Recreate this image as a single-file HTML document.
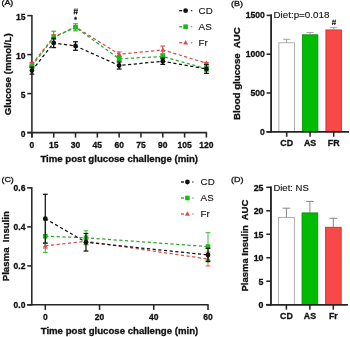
<!DOCTYPE html>
<html><head><meta charset="utf-8"><style>
html,body{margin:0;padding:0;background:#fff;width:350px;height:337px;overflow:hidden}
svg{display:block;font-family:"Liberation Sans", sans-serif;filter:blur(0.35px)}
</style></head><body>
<svg width="350" height="337" viewBox="0 0 350 337">
<rect width="350" height="337" fill="#fff"/>
<line x1="31.90" y1="14.90" x2="31.90" y2="137.60" stroke="#262626" stroke-width="1.55" />
<line x1="27.30" y1="132.60" x2="207.10" y2="132.60" stroke="#262626" stroke-width="1.55" />
<line x1="27.30" y1="132.60" x2="31.90" y2="132.60" stroke="#262626" stroke-width="1.55" />
<text x="25.50" y="136.50" font-size="8.5" font-weight="bold" text-anchor="end" fill="#111" stroke="#111" stroke-width="0.3" >0</text>
<line x1="27.30" y1="93.60" x2="31.90" y2="93.60" stroke="#262626" stroke-width="1.55" />
<text x="25.50" y="97.50" font-size="8.5" font-weight="bold" text-anchor="end" fill="#111" stroke="#111" stroke-width="0.3" >5</text>
<line x1="27.30" y1="54.60" x2="31.90" y2="54.60" stroke="#262626" stroke-width="1.55" />
<text x="25.50" y="58.50" font-size="8.5" font-weight="bold" text-anchor="end" fill="#111" stroke="#111" stroke-width="0.3" >10</text>
<line x1="27.30" y1="15.60" x2="31.90" y2="15.60" stroke="#262626" stroke-width="1.55" />
<text x="25.50" y="19.50" font-size="8.5" font-weight="bold" text-anchor="end" fill="#111" stroke="#111" stroke-width="0.3" >15</text>
<line x1="31.90" y1="132.60" x2="31.90" y2="137.60" stroke="#262626" stroke-width="1.55" />
<text x="31.90" y="147.60" font-size="8.5" font-weight="bold" text-anchor="middle" fill="#111" stroke="#111" stroke-width="0.3" >0</text>
<line x1="53.71" y1="132.60" x2="53.71" y2="137.60" stroke="#262626" stroke-width="1.55" />
<text x="53.71" y="147.60" font-size="8.5" font-weight="bold" text-anchor="middle" fill="#111" stroke="#111" stroke-width="0.3" >15</text>
<line x1="75.53" y1="132.60" x2="75.53" y2="137.60" stroke="#262626" stroke-width="1.55" />
<text x="75.53" y="147.60" font-size="8.5" font-weight="bold" text-anchor="middle" fill="#111" stroke="#111" stroke-width="0.3" >30</text>
<line x1="97.34" y1="132.60" x2="97.34" y2="137.60" stroke="#262626" stroke-width="1.55" />
<text x="97.34" y="147.60" font-size="8.5" font-weight="bold" text-anchor="middle" fill="#111" stroke="#111" stroke-width="0.3" >45</text>
<line x1="119.15" y1="132.60" x2="119.15" y2="137.60" stroke="#262626" stroke-width="1.55" />
<text x="119.15" y="147.60" font-size="8.5" font-weight="bold" text-anchor="middle" fill="#111" stroke="#111" stroke-width="0.3" >60</text>
<line x1="140.97" y1="132.60" x2="140.97" y2="137.60" stroke="#262626" stroke-width="1.55" />
<text x="140.97" y="147.60" font-size="8.5" font-weight="bold" text-anchor="middle" fill="#111" stroke="#111" stroke-width="0.3" >75</text>
<line x1="162.78" y1="132.60" x2="162.78" y2="137.60" stroke="#262626" stroke-width="1.55" />
<text x="162.78" y="147.60" font-size="8.5" font-weight="bold" text-anchor="middle" fill="#111" stroke="#111" stroke-width="0.3" >90</text>
<line x1="184.59" y1="132.60" x2="184.59" y2="137.60" stroke="#262626" stroke-width="1.55" />
<text x="184.59" y="147.60" font-size="8.5" font-weight="bold" text-anchor="middle" fill="#111" stroke="#111" stroke-width="0.3" >105</text>
<line x1="206.40" y1="132.60" x2="206.40" y2="137.60" stroke="#262626" stroke-width="1.55" />
<text x="206.40" y="147.60" font-size="8.5" font-weight="bold" text-anchor="middle" fill="#111" stroke="#111" stroke-width="0.3" >120</text>
<text x="119.20" y="162.20" font-size="9.65" font-weight="bold" text-anchor="middle" fill="#111" stroke="#111" stroke-width="0.3" >Time post glucose challenge (min)</text>
<text x="11.10" y="74.30" font-size="9.7" font-weight="bold" text-anchor="middle" fill="#111" stroke="#111" stroke-width="0.3" transform="rotate(-90 11.1 74.3)">Glucose (mmol/L)</text>
<text transform="translate(1.4 5.2) scale(1.12 1)" font-size="8" fill="#111" stroke="#111" stroke-width="0.3">(A)</text>
<polyline points="31.90,64.35 53.71,37.05 75.53,26.91 119.15,54.29 162.78,49.92 206.40,63.18" fill="none" stroke="#d05050" stroke-width="1.25" stroke-dasharray="3.2,2.5"/>
<polyline points="31.90,65.91 53.71,37.44 75.53,27.30 119.15,58.81 162.78,56.55 206.40,68.80" fill="none" stroke="#2ea82e" stroke-width="1.25" stroke-dasharray="3.2,2.5"/>
<polyline points="31.90,70.59 53.71,42.90 75.53,46.02 119.15,65.52 162.78,61.23 206.40,69.03" fill="none" stroke="#111111" stroke-width="1.25" stroke-dasharray="3.2,2.5"/>
<line x1="31.90" y1="62.40" x2="31.90" y2="66.30" stroke="#e24848" stroke-width="1.1" />
<line x1="29.50" y1="62.40" x2="34.30" y2="62.40" stroke="#e24848" stroke-width="1.1" />
<line x1="29.50" y1="66.30" x2="34.30" y2="66.30" stroke="#e24848" stroke-width="1.1" />
<polygon points="31.90,61.70 34.35,66.11 29.45,66.11" fill="#e24848"/>
<line x1="53.71" y1="34.71" x2="53.71" y2="39.39" stroke="#e24848" stroke-width="1.1" />
<line x1="51.31" y1="34.71" x2="56.11" y2="34.71" stroke="#e24848" stroke-width="1.1" />
<line x1="51.31" y1="39.39" x2="56.11" y2="39.39" stroke="#e24848" stroke-width="1.1" />
<polygon points="53.71,34.40 56.16,38.81 51.26,38.81" fill="#e24848"/>
<line x1="75.53" y1="25.74" x2="75.53" y2="28.08" stroke="#e24848" stroke-width="1.1" />
<line x1="73.13" y1="25.74" x2="77.93" y2="25.74" stroke="#e24848" stroke-width="1.1" />
<line x1="73.13" y1="28.08" x2="77.93" y2="28.08" stroke="#e24848" stroke-width="1.1" />
<polygon points="75.53,24.26 77.98,28.67 73.08,28.67" fill="#e24848"/>
<line x1="119.15" y1="51.95" x2="119.15" y2="56.63" stroke="#e24848" stroke-width="1.1" />
<line x1="116.75" y1="51.95" x2="121.55" y2="51.95" stroke="#e24848" stroke-width="1.1" />
<line x1="116.75" y1="56.63" x2="121.55" y2="56.63" stroke="#e24848" stroke-width="1.1" />
<polygon points="119.15,51.64 121.60,56.05 116.70,56.05" fill="#e24848"/>
<line x1="162.78" y1="46.02" x2="162.78" y2="53.82" stroke="#e24848" stroke-width="1.1" />
<line x1="160.38" y1="46.02" x2="165.18" y2="46.02" stroke="#e24848" stroke-width="1.1" />
<line x1="160.38" y1="53.82" x2="165.18" y2="53.82" stroke="#e24848" stroke-width="1.1" />
<polygon points="162.78,47.27 165.23,51.68 160.33,51.68" fill="#e24848"/>
<line x1="206.40" y1="62.40" x2="206.40" y2="63.96" stroke="#e24848" stroke-width="1.1" />
<line x1="204.00" y1="62.40" x2="208.80" y2="62.40" stroke="#e24848" stroke-width="1.1" />
<line x1="204.00" y1="63.96" x2="208.80" y2="63.96" stroke="#e24848" stroke-width="1.1" />
<polygon points="206.40,60.53 208.85,64.94 203.95,64.94" fill="#e24848"/>
<line x1="31.90" y1="63.96" x2="31.90" y2="67.86" stroke="#1cb81c" stroke-width="1.1" />
<line x1="29.50" y1="63.96" x2="34.30" y2="63.96" stroke="#1cb81c" stroke-width="1.1" />
<line x1="29.50" y1="67.86" x2="34.30" y2="67.86" stroke="#1cb81c" stroke-width="1.1" />
<rect x="29.60" y="63.61" width="4.6" height="4.6" fill="#1cb81c"/>
<line x1="53.71" y1="31.20" x2="53.71" y2="43.68" stroke="#1cb81c" stroke-width="1.1" />
<line x1="51.31" y1="31.20" x2="56.11" y2="31.20" stroke="#1cb81c" stroke-width="1.1" />
<line x1="51.31" y1="43.68" x2="56.11" y2="43.68" stroke="#1cb81c" stroke-width="1.1" />
<rect x="51.41" y="35.14" width="4.6" height="4.6" fill="#1cb81c"/>
<line x1="75.53" y1="23.79" x2="75.53" y2="30.81" stroke="#1cb81c" stroke-width="1.1" />
<line x1="73.13" y1="23.79" x2="77.93" y2="23.79" stroke="#1cb81c" stroke-width="1.1" />
<line x1="73.13" y1="30.81" x2="77.93" y2="30.81" stroke="#1cb81c" stroke-width="1.1" />
<rect x="73.23" y="25.00" width="4.6" height="4.6" fill="#1cb81c"/>
<line x1="119.15" y1="56.47" x2="119.15" y2="61.15" stroke="#1cb81c" stroke-width="1.1" />
<line x1="116.75" y1="56.47" x2="121.55" y2="56.47" stroke="#1cb81c" stroke-width="1.1" />
<line x1="116.75" y1="61.15" x2="121.55" y2="61.15" stroke="#1cb81c" stroke-width="1.1" />
<rect x="116.85" y="56.51" width="4.6" height="4.6" fill="#1cb81c"/>
<line x1="162.78" y1="54.21" x2="162.78" y2="58.89" stroke="#1cb81c" stroke-width="1.1" />
<line x1="160.38" y1="54.21" x2="165.18" y2="54.21" stroke="#1cb81c" stroke-width="1.1" />
<line x1="160.38" y1="58.89" x2="165.18" y2="58.89" stroke="#1cb81c" stroke-width="1.1" />
<rect x="160.48" y="54.25" width="4.6" height="4.6" fill="#1cb81c"/>
<line x1="206.40" y1="66.46" x2="206.40" y2="71.14" stroke="#1cb81c" stroke-width="1.1" />
<line x1="204.00" y1="66.46" x2="208.80" y2="66.46" stroke="#1cb81c" stroke-width="1.1" />
<line x1="204.00" y1="71.14" x2="208.80" y2="71.14" stroke="#1cb81c" stroke-width="1.1" />
<rect x="204.10" y="66.50" width="4.6" height="4.6" fill="#1cb81c"/>
<line x1="31.90" y1="67.08" x2="31.90" y2="74.10" stroke="#111111" stroke-width="1.25" />
<line x1="29.50" y1="67.08" x2="34.30" y2="67.08" stroke="#111111" stroke-width="1.25" />
<line x1="29.50" y1="74.10" x2="34.30" y2="74.10" stroke="#111111" stroke-width="1.25" />
<circle cx="31.90" cy="70.59" r="2.4" fill="#111111"/>
<line x1="53.71" y1="38.22" x2="53.71" y2="47.58" stroke="#111111" stroke-width="1.25" />
<line x1="51.31" y1="38.22" x2="56.11" y2="38.22" stroke="#111111" stroke-width="1.25" />
<line x1="51.31" y1="47.58" x2="56.11" y2="47.58" stroke="#111111" stroke-width="1.25" />
<circle cx="53.71" cy="42.90" r="2.4" fill="#111111"/>
<line x1="75.53" y1="41.73" x2="75.53" y2="50.31" stroke="#111111" stroke-width="1.25" />
<line x1="73.13" y1="41.73" x2="77.93" y2="41.73" stroke="#111111" stroke-width="1.25" />
<line x1="73.13" y1="50.31" x2="77.93" y2="50.31" stroke="#111111" stroke-width="1.25" />
<circle cx="75.53" cy="46.02" r="2.4" fill="#111111"/>
<line x1="119.15" y1="62.01" x2="119.15" y2="69.03" stroke="#111111" stroke-width="1.25" />
<line x1="116.75" y1="62.01" x2="121.55" y2="62.01" stroke="#111111" stroke-width="1.25" />
<line x1="116.75" y1="69.03" x2="121.55" y2="69.03" stroke="#111111" stroke-width="1.25" />
<circle cx="119.15" cy="65.52" r="2.4" fill="#111111"/>
<line x1="162.78" y1="58.11" x2="162.78" y2="64.35" stroke="#111111" stroke-width="1.25" />
<line x1="160.38" y1="58.11" x2="165.18" y2="58.11" stroke="#111111" stroke-width="1.25" />
<line x1="160.38" y1="64.35" x2="165.18" y2="64.35" stroke="#111111" stroke-width="1.25" />
<circle cx="162.78" cy="61.23" r="2.4" fill="#111111"/>
<line x1="206.40" y1="64.74" x2="206.40" y2="73.32" stroke="#111111" stroke-width="1.25" />
<line x1="204.00" y1="64.74" x2="208.80" y2="64.74" stroke="#111111" stroke-width="1.25" />
<line x1="204.00" y1="73.32" x2="208.80" y2="73.32" stroke="#111111" stroke-width="1.25" />
<circle cx="206.40" cy="69.03" r="2.4" fill="#111111"/>
<path d="M75.00,8.40L74.20,14.40M77.20,8.40L76.40,14.40M73.60,10.30H77.80M73.60,12.60H77.80" stroke="#1a1a1a" stroke-width="0.95" fill="none"/>
<text x="75.53" y="22.00" font-size="6.6" font-weight="bold" text-anchor="middle" fill="#111" stroke="#111" stroke-width="0.3" >*</text>
<line x1="179.20" y1="10.70" x2="182.20" y2="10.70" stroke="#111111" stroke-width="1.35" />
<line x1="190.90" y1="10.70" x2="192.30" y2="10.70" stroke="#111111" stroke-width="1.1" />
<circle cx="185.60" cy="10.70" r="2.4" fill="#111111"/>
<text x="198.60" y="14.20" font-size="9.8" font-weight="normal" text-anchor="start" fill="#111" stroke="#111" stroke-width="0.12" >CD</text>
<line x1="179.20" y1="26.70" x2="182.20" y2="26.70" stroke="#2ea82e" stroke-width="1.35" />
<line x1="190.90" y1="26.70" x2="192.30" y2="26.70" stroke="#2ea82e" stroke-width="1.1" />
<rect x="183.30" y="24.40" width="4.6" height="4.6" fill="#1cb81c"/>
<text x="198.60" y="30.20" font-size="9.8" font-weight="normal" text-anchor="start" fill="#111" stroke="#111" stroke-width="0.12" >AS</text>
<line x1="179.20" y1="42.70" x2="182.20" y2="42.70" stroke="#d05050" stroke-width="1.35" />
<line x1="190.90" y1="42.70" x2="192.30" y2="42.70" stroke="#d05050" stroke-width="1.1" />
<polygon points="185.60,40.05 188.05,44.46 183.15,44.46" fill="#e24848"/>
<text x="198.60" y="46.20" font-size="9.8" font-weight="normal" text-anchor="start" fill="#111" stroke="#111" stroke-width="0.12" >Fr</text>
<line x1="271.20" y1="14.40" x2="271.20" y2="132.50" stroke="#262626" stroke-width="1.55" />
<line x1="266.60" y1="131.75" x2="349.00" y2="131.75" stroke="#262626" stroke-width="1.55" />
<line x1="266.60" y1="131.80" x2="271.20" y2="131.80" stroke="#262626" stroke-width="1.55" />
<text x="264.80" y="134.80" font-size="8.6" font-weight="bold" text-anchor="end" fill="#111" stroke="#111" stroke-width="0.3" >0</text>
<line x1="266.60" y1="93.00" x2="271.20" y2="93.00" stroke="#262626" stroke-width="1.55" />
<text x="264.80" y="96.00" font-size="8.6" font-weight="bold" text-anchor="end" fill="#111" stroke="#111" stroke-width="0.3" >500</text>
<line x1="266.60" y1="54.20" x2="271.20" y2="54.20" stroke="#262626" stroke-width="1.55" />
<text x="264.80" y="57.20" font-size="8.6" font-weight="bold" text-anchor="end" fill="#111" stroke="#111" stroke-width="0.3" >1000</text>
<line x1="266.60" y1="15.40" x2="271.20" y2="15.40" stroke="#262626" stroke-width="1.55" />
<text x="264.80" y="18.40" font-size="8.6" font-weight="bold" text-anchor="end" fill="#111" stroke="#111" stroke-width="0.3" >1500</text>
<rect x="278.90" y="42.79" width="15.6" height="89.01" fill="#ffffff" stroke="#9a9a9a" stroke-width="0.8"/>
<line x1="286.70" y1="42.79" x2="286.70" y2="39.30" stroke="#808080" stroke-width="0.7" />
<line x1="283.10" y1="39.30" x2="290.30" y2="39.30" stroke="#808080" stroke-width="0.7" />
<line x1="286.70" y1="131.80" x2="286.70" y2="136.80" stroke="#262626" stroke-width="1.55" />
<text x="286.70" y="146.40" font-size="8.8" font-weight="bold" text-anchor="middle" fill="#111" stroke="#111" stroke-width="0.3" >CD</text>
<rect x="302.30" y="34.80" width="15.6" height="97.00" fill="#00bb04" stroke="#0a8a0a" stroke-width="0.8"/>
<line x1="310.10" y1="34.80" x2="310.10" y2="32.47" stroke="#808080" stroke-width="0.7" />
<line x1="306.50" y1="32.47" x2="313.70" y2="32.47" stroke="#808080" stroke-width="0.7" />
<line x1="310.10" y1="131.80" x2="310.10" y2="136.80" stroke="#262626" stroke-width="1.55" />
<text x="310.10" y="146.40" font-size="8.8" font-weight="bold" text-anchor="middle" fill="#111" stroke="#111" stroke-width="0.3" >AS</text>
<rect x="325.90" y="29.91" width="15.6" height="101.89" fill="#f84848" stroke="#c03030" stroke-width="0.8"/>
<line x1="333.70" y1="29.91" x2="333.70" y2="27.58" stroke="#808080" stroke-width="0.7" />
<line x1="330.10" y1="27.58" x2="337.30" y2="27.58" stroke="#808080" stroke-width="0.7" />
<line x1="333.70" y1="131.80" x2="333.70" y2="136.80" stroke="#262626" stroke-width="1.55" />
<text x="333.70" y="146.40" font-size="8.8" font-weight="bold" text-anchor="middle" fill="#111" stroke="#111" stroke-width="0.3" >FR</text>
<line x1="266.60" y1="131.75" x2="349.00" y2="131.75" stroke="#262626" stroke-width="1.55" />
<line x1="271.20" y1="14.40" x2="271.20" y2="132.50" stroke="#262626" stroke-width="1.55" />
<text x="273.50" y="18.10" font-size="9.8" font-weight="normal" text-anchor="start" fill="#111" stroke="#111" stroke-width="0.12" >Diet:p=0.018</text>
<path d="M333.30,19.70L332.50,25.00M335.40,19.70L334.60,25.00M331.90,21.20H336.00M331.90,23.60H336.00" stroke="#1a1a1a" stroke-width="0.85" fill="none"/>
<text x="240.40" y="73.60" font-size="9.69" font-weight="bold" text-anchor="middle" fill="#111" stroke="#111" stroke-width="0.3" style="white-space:pre" transform="rotate(-90 240.4 73.6)">Blood glucose  AUC</text>
<text transform="translate(231.0 5.5) scale(1.12 1)" font-size="8" fill="#111" stroke="#111" stroke-width="0.3">(B)</text>
<line x1="31.80" y1="187.10" x2="31.80" y2="305.60" stroke="#262626" stroke-width="1.55" />
<line x1="27.20" y1="304.80" x2="208.70" y2="304.80" stroke="#262626" stroke-width="1.55" />
<line x1="27.20" y1="304.90" x2="31.80" y2="304.90" stroke="#262626" stroke-width="1.55" />
<text x="25.40" y="308.10" font-size="8.5" font-weight="bold" text-anchor="end" fill="#111" stroke="#111" stroke-width="0.3" >0.0</text>
<line x1="27.20" y1="265.88" x2="31.80" y2="265.88" stroke="#262626" stroke-width="1.55" />
<text x="25.40" y="269.08" font-size="8.5" font-weight="bold" text-anchor="end" fill="#111" stroke="#111" stroke-width="0.3" >0.2</text>
<line x1="27.20" y1="226.86" x2="31.80" y2="226.86" stroke="#262626" stroke-width="1.55" />
<text x="25.40" y="230.06" font-size="8.5" font-weight="bold" text-anchor="end" fill="#111" stroke="#111" stroke-width="0.3" >0.4</text>
<line x1="27.20" y1="187.84" x2="31.80" y2="187.84" stroke="#262626" stroke-width="1.55" />
<text x="25.40" y="191.04" font-size="8.5" font-weight="bold" text-anchor="end" fill="#111" stroke="#111" stroke-width="0.3" >0.6</text>
<line x1="45.30" y1="304.90" x2="45.30" y2="309.90" stroke="#262626" stroke-width="1.55" />
<text x="45.30" y="320.20" font-size="8.5" font-weight="bold" text-anchor="middle" fill="#111" stroke="#111" stroke-width="0.3" >0</text>
<line x1="99.53" y1="304.90" x2="99.53" y2="309.90" stroke="#262626" stroke-width="1.55" />
<text x="99.53" y="320.20" font-size="8.5" font-weight="bold" text-anchor="middle" fill="#111" stroke="#111" stroke-width="0.3" >20</text>
<line x1="153.77" y1="304.90" x2="153.77" y2="309.90" stroke="#262626" stroke-width="1.55" />
<text x="153.77" y="320.20" font-size="8.5" font-weight="bold" text-anchor="middle" fill="#111" stroke="#111" stroke-width="0.3" >40</text>
<line x1="208.00" y1="304.90" x2="208.00" y2="309.90" stroke="#262626" stroke-width="1.55" />
<text x="208.00" y="320.20" font-size="8.5" font-weight="bold" text-anchor="middle" fill="#111" stroke="#111" stroke-width="0.3" >60</text>
<text x="119.50" y="333.60" font-size="9.65" font-weight="bold" text-anchor="middle" fill="#111" stroke="#111" stroke-width="0.3" >Time post glucose challenge (min)</text>
<text x="9.00" y="246.20" font-size="9.63" font-weight="bold" text-anchor="middle" fill="#111" stroke="#111" stroke-width="0.3" style="white-space:pre" transform="rotate(-90 9.0 246.2)">Plasma  Insulin</text>
<text transform="translate(1.4 182.2) scale(1.12 1)" font-size="8" fill="#111" stroke="#111" stroke-width="0.3">(C)</text>
<polyline points="45.30,245.78 85.98,241.30 208.00,259.05" fill="none" stroke="#d05050" stroke-width="1.25" stroke-dasharray="3.2,2.5"/>
<polyline points="45.30,236.22 85.98,237.79 208.00,246.57" fill="none" stroke="#2ea82e" stroke-width="1.25" stroke-dasharray="3.2,2.5"/>
<polyline points="45.30,218.67 85.98,242.27 208.00,254.95" fill="none" stroke="#111111" stroke-width="1.25" stroke-dasharray="3.2,2.5"/>
<line x1="45.30" y1="243.44" x2="45.30" y2="248.13" stroke="#e24848" stroke-width="0.9" />
<line x1="42.90" y1="243.44" x2="47.70" y2="243.44" stroke="#e24848" stroke-width="0.9" />
<line x1="42.90" y1="248.13" x2="47.70" y2="248.13" stroke="#e24848" stroke-width="0.9" />
<polygon points="45.30,243.14 47.75,247.55 42.85,247.55" fill="#e24848"/>
<line x1="85.98" y1="238.37" x2="85.98" y2="244.22" stroke="#e24848" stroke-width="0.9" />
<line x1="83.58" y1="238.37" x2="88.38" y2="238.37" stroke="#e24848" stroke-width="0.9" />
<line x1="83.58" y1="244.22" x2="88.38" y2="244.22" stroke="#e24848" stroke-width="0.9" />
<polygon points="85.98,238.65 88.43,243.06 83.53,243.06" fill="#e24848"/>
<line x1="208.00" y1="252.03" x2="208.00" y2="266.08" stroke="#e24848" stroke-width="0.9" />
<line x1="205.60" y1="252.03" x2="210.40" y2="252.03" stroke="#e24848" stroke-width="0.9" />
<line x1="205.60" y1="266.08" x2="210.40" y2="266.08" stroke="#e24848" stroke-width="0.9" />
<polygon points="208.00,256.41 210.45,260.82 205.55,260.82" fill="#e24848"/>
<line x1="45.30" y1="220.03" x2="45.30" y2="252.42" stroke="#1cb81c" stroke-width="0.9" />
<line x1="42.90" y1="220.03" x2="47.70" y2="220.03" stroke="#1cb81c" stroke-width="0.9" />
<line x1="42.90" y1="252.42" x2="47.70" y2="252.42" stroke="#1cb81c" stroke-width="0.9" />
<rect x="43.00" y="233.92" width="4.6" height="4.6" fill="#1cb81c"/>
<line x1="85.98" y1="230.76" x2="85.98" y2="244.81" stroke="#1cb81c" stroke-width="0.9" />
<line x1="83.58" y1="230.76" x2="88.38" y2="230.76" stroke="#1cb81c" stroke-width="0.9" />
<line x1="83.58" y1="244.81" x2="88.38" y2="244.81" stroke="#1cb81c" stroke-width="0.9" />
<rect x="83.68" y="235.49" width="4.6" height="4.6" fill="#1cb81c"/>
<line x1="208.00" y1="232.71" x2="208.00" y2="260.42" stroke="#1cb81c" stroke-width="0.9" />
<line x1="205.60" y1="232.71" x2="210.40" y2="232.71" stroke="#1cb81c" stroke-width="0.9" />
<line x1="205.60" y1="260.42" x2="210.40" y2="260.42" stroke="#1cb81c" stroke-width="0.9" />
<rect x="205.70" y="244.27" width="4.6" height="4.6" fill="#1cb81c"/>
<line x1="45.30" y1="194.28" x2="45.30" y2="243.05" stroke="#111111" stroke-width="1.25" />
<line x1="42.90" y1="194.28" x2="47.70" y2="194.28" stroke="#111111" stroke-width="1.25" />
<line x1="42.90" y1="243.05" x2="47.70" y2="243.05" stroke="#111111" stroke-width="1.25" />
<circle cx="45.30" cy="218.67" r="2.4" fill="#111111"/>
<line x1="85.98" y1="233.49" x2="85.98" y2="251.05" stroke="#111111" stroke-width="1.25" />
<line x1="83.58" y1="233.49" x2="88.38" y2="233.49" stroke="#111111" stroke-width="1.25" />
<line x1="83.58" y1="251.05" x2="88.38" y2="251.05" stroke="#111111" stroke-width="1.25" />
<circle cx="85.98" cy="242.27" r="2.4" fill="#111111"/>
<line x1="208.00" y1="248.32" x2="208.00" y2="261.59" stroke="#111111" stroke-width="1.25" />
<line x1="205.60" y1="248.32" x2="210.40" y2="248.32" stroke="#111111" stroke-width="1.25" />
<line x1="205.60" y1="261.59" x2="210.40" y2="261.59" stroke="#111111" stroke-width="1.25" />
<circle cx="208.00" cy="254.95" r="2.4" fill="#111111"/>
<line x1="181.00" y1="182.00" x2="184.00" y2="182.00" stroke="#111111" stroke-width="1.35" />
<line x1="192.20" y1="182.00" x2="193.60" y2="182.00" stroke="#111111" stroke-width="1.1" />
<circle cx="187.40" cy="182.00" r="2.4" fill="#111111"/>
<text x="200.60" y="185.20" font-size="9.8" font-weight="normal" text-anchor="start" fill="#111" stroke="#111" stroke-width="0.12" >CD</text>
<line x1="181.00" y1="198.00" x2="184.00" y2="198.00" stroke="#2ea82e" stroke-width="1.35" />
<line x1="192.20" y1="198.00" x2="193.60" y2="198.00" stroke="#2ea82e" stroke-width="1.1" />
<rect x="185.10" y="195.70" width="4.6" height="4.6" fill="#1cb81c"/>
<text x="200.60" y="201.20" font-size="9.8" font-weight="normal" text-anchor="start" fill="#111" stroke="#111" stroke-width="0.12" >AS</text>
<line x1="181.00" y1="214.00" x2="184.00" y2="214.00" stroke="#d05050" stroke-width="1.35" />
<line x1="192.20" y1="214.00" x2="193.60" y2="214.00" stroke="#d05050" stroke-width="1.1" />
<polygon points="187.40,211.35 189.85,215.76 184.95,215.76" fill="#e24848"/>
<text x="200.60" y="217.20" font-size="9.8" font-weight="normal" text-anchor="start" fill="#111" stroke="#111" stroke-width="0.12" >Fr</text>
<line x1="270.90" y1="186.60" x2="270.90" y2="305.40" stroke="#262626" stroke-width="1.55" />
<line x1="266.30" y1="304.70" x2="347.80" y2="304.70" stroke="#262626" stroke-width="1.55" />
<line x1="266.30" y1="304.70" x2="270.90" y2="304.70" stroke="#262626" stroke-width="1.55" />
<text x="263.50" y="308.20" font-size="8.8" font-weight="bold" text-anchor="end" fill="#111" stroke="#111" stroke-width="0.3" >0</text>
<line x1="266.30" y1="281.22" x2="270.90" y2="281.22" stroke="#262626" stroke-width="1.55" />
<text x="263.50" y="284.72" font-size="8.8" font-weight="bold" text-anchor="end" fill="#111" stroke="#111" stroke-width="0.3" >5</text>
<line x1="266.30" y1="257.74" x2="270.90" y2="257.74" stroke="#262626" stroke-width="1.55" />
<text x="263.50" y="261.24" font-size="8.8" font-weight="bold" text-anchor="end" fill="#111" stroke="#111" stroke-width="0.3" >10</text>
<line x1="266.30" y1="234.26" x2="270.90" y2="234.26" stroke="#262626" stroke-width="1.55" />
<text x="263.50" y="237.76" font-size="8.8" font-weight="bold" text-anchor="end" fill="#111" stroke="#111" stroke-width="0.3" >15</text>
<line x1="266.30" y1="210.78" x2="270.90" y2="210.78" stroke="#262626" stroke-width="1.55" />
<text x="263.50" y="214.28" font-size="8.8" font-weight="bold" text-anchor="end" fill="#111" stroke="#111" stroke-width="0.3" >20</text>
<line x1="266.30" y1="187.30" x2="270.90" y2="187.30" stroke="#262626" stroke-width="1.55" />
<text x="263.50" y="190.80" font-size="8.8" font-weight="bold" text-anchor="end" fill="#111" stroke="#111" stroke-width="0.3" >25</text>
<rect x="278.50" y="217.35" width="15.8" height="87.35" fill="#ffffff" stroke="#9a9a9a" stroke-width="0.8"/>
<line x1="286.40" y1="217.35" x2="286.40" y2="208.20" stroke="#7a7a7a" stroke-width="0.9" />
<line x1="282.60" y1="208.20" x2="290.20" y2="208.20" stroke="#7a7a7a" stroke-width="0.9" />
<line x1="286.40" y1="304.70" x2="286.40" y2="309.70" stroke="#262626" stroke-width="1.55" />
<text x="286.40" y="318.70" font-size="8.8" font-weight="bold" text-anchor="middle" fill="#111" stroke="#111" stroke-width="0.3" >CD</text>
<rect x="302.00" y="212.89" width="15.8" height="91.81" fill="#00bb04" stroke="#0a8a0a" stroke-width="0.8"/>
<line x1="309.90" y1="212.89" x2="309.90" y2="201.39" stroke="#7a7a7a" stroke-width="0.9" />
<line x1="306.10" y1="201.39" x2="313.70" y2="201.39" stroke="#7a7a7a" stroke-width="0.9" />
<line x1="309.90" y1="304.70" x2="309.90" y2="309.70" stroke="#262626" stroke-width="1.55" />
<text x="309.90" y="318.70" font-size="8.8" font-weight="bold" text-anchor="middle" fill="#111" stroke="#111" stroke-width="0.3" >AS</text>
<rect x="325.40" y="227.22" width="15.8" height="77.48" fill="#f84848" stroke="#c03030" stroke-width="0.8"/>
<line x1="333.30" y1="227.22" x2="333.30" y2="218.29" stroke="#7a7a7a" stroke-width="0.9" />
<line x1="329.50" y1="218.29" x2="337.10" y2="218.29" stroke="#7a7a7a" stroke-width="0.9" />
<line x1="333.30" y1="304.70" x2="333.30" y2="309.70" stroke="#262626" stroke-width="1.55" />
<text x="333.30" y="318.70" font-size="8.8" font-weight="bold" text-anchor="middle" fill="#111" stroke="#111" stroke-width="0.3" >Fr</text>
<line x1="266.30" y1="304.70" x2="347.80" y2="304.70" stroke="#262626" stroke-width="1.55" />
<line x1="270.90" y1="186.60" x2="270.90" y2="305.40" stroke="#262626" stroke-width="1.55" />
<text x="273.40" y="190.80" font-size="9.5" font-weight="normal" text-anchor="start" fill="#111" stroke="#111" stroke-width="0.12" >Diet: NS</text>
<text x="248.30" y="245.60" font-size="9.48" font-weight="bold" text-anchor="middle" fill="#111" stroke="#111" stroke-width="0.3" style="white-space:pre" transform="rotate(-90 248.3 245.6)">Plasma Insulin  AUC</text>
<text transform="translate(231.0 182.2) scale(1.12 1)" font-size="8" fill="#111" stroke="#111" stroke-width="0.3">(D)</text>
</svg>
</body></html>
